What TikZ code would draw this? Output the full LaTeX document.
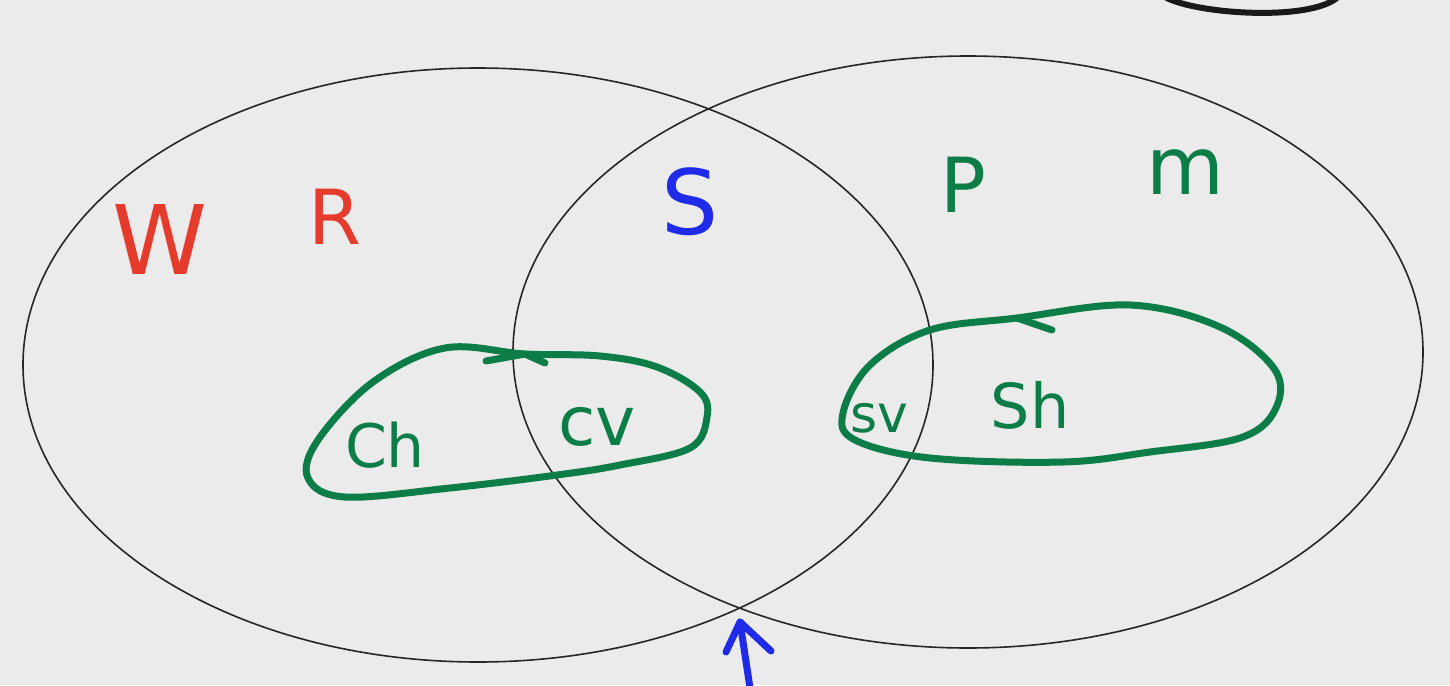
\documentclass[tikz,border=0pt]{standalone}
\usepackage{fontspec}
\setmainfont{DejaVu Sans}
\definecolor{bg}{HTML}{EBEBEB}
\definecolor{hred}{HTML}{E53B2C}
\definecolor{hgreen}{HTML}{0C7D47}
\definecolor{hblue}{HTML}{1F2BE8}
\tikzset{
  venn/.style={draw=black!85, line width=1.6pt},
  loopline/.style={draw=hgreen, line width=7pt, line cap=round, line join=round},
  ink/.style={line width=7pt, line cap=round, line join=round},
  lbl/.style={inner sep=0pt, font=\fontsize{#1}{#1}\selectfont},
}
\begin{document}
\begin{tikzpicture}[x=1pt,y=-1pt]
\fill[bg] (0,0) rectangle (1450,685);
\useasboundingbox (0,0) rectangle (1450,685);
% Venn ellipses
\draw[venn] (478,365) ellipse [x radius=455, y radius=297];
\draw[venn] (968,352) ellipse [x radius=455, y radius=296];
% top-right fragment
\draw[ink, line width=6pt, black!90] (1165,-3) .. controls (1195,14) and (1310,22) .. (1338,-3);
% labels
\node[lbl=96, text=hred] (W) at (160,240) {W};
\node[lbl=76, text=hred] (R) at (335,217) {R};
\node[lbl=90, text=hblue] (S) at (690,202) {S};
\node[lbl=76, text=hgreen] (P) at (963,185) {P};
\node[lbl=80, text=hgreen] (M) at (1185,172) {m};
% left loop
\draw[loopline] plot[smooth cycle, tension=0.6] coordinates {(525,354) (600,356) (657,367) (700,392) (707,417) (690,448) (620,465) (557,475) (450,488) (345,497) (308,478) (318,440) (373,382) (445,348)};
\draw[loopline] (486,361) -- (525,354) -- (545,363);
\node[lbl=60, text=hgreen] (Ch) at (385,445) {Ch};
\node[lbl=68, text=hgreen] (cv) at (597,427) {cv};
% right loop
\draw[loopline] plot[smooth cycle, tension=0.6] coordinates {(1017,318) (1130,305) (1220,327) (1275,370) (1275,410) (1240,438) (1150,452) (1063,462) (930,458) (855,440) (843,413) (870,365) (930,330)};
\draw[loopline] (1017,318) -- (1052,330);
\node[lbl=52, text=hgreen] (sv) at (879,418) {sv};
\node[lbl=62, text=hgreen] (Sh) at (1030,405) {Sh};
% blue arrow
\coordinate (arrtail) at (750,688);
\coordinate (arrtip) at (740,622);
\draw[ink, draw=hblue] (arrtail) -- (arrtip);
\draw[ink, draw=hblue] (726,652) -- (arrtip) -- (771,651);
\end{tikzpicture}
\end{document}
